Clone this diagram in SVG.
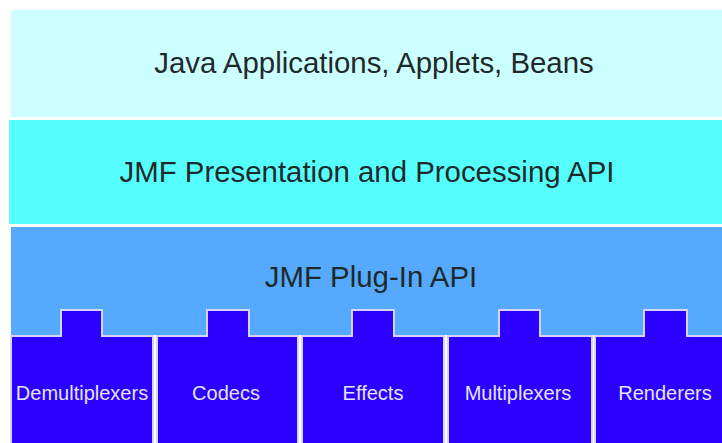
<svg xmlns="http://www.w3.org/2000/svg" width="722" height="443" viewBox="0 0 722 443">
<style>
.lt{font-family:"Liberation Sans",Arial,sans-serif;font-size:29.4px;fill:#1e2a2a;text-anchor:middle}
.bt{font-family:"Liberation Sans",Arial,sans-serif;font-size:20px;fill:#e4e4ff;text-anchor:middle}
.box{fill:#2b00ff;stroke:#d4d4ff;stroke-width:2}
</style>
<rect width="722" height="443" fill="#ffffff"/>
<g id="layer-apps">
<rect x="11" y="10" width="712" height="107" fill="#ccffff"/>
<text class="lt" x="374" y="73">Java Applications, Applets, Beans</text>
</g>
<g id="layer-presentation">
<rect x="9" y="120" width="714" height="104" fill="#55ffff"/>
<text class="lt" x="367" y="182">JMF Presentation and Processing API</text>
</g>
<g id="layer-plugin">
<rect x="11" y="227" width="712" height="108" fill="#55aaff"/>
<text class="lt" x="371" y="287">JMF Plug-In API</text>
</g>
<g id="connectors"></g>
<g id="box-demux">
<path class="box" d="M11,336 H61 V310 H102 V336 H153 V450 H11 Z"/>
<text class="bt" x="82" y="400">Demultiplexers</text>
</g>
<g id="box-codecs">
<path class="box" d="M157,336 H207 V310 H249 V336 H298 V450 H157 Z"/>
<text class="bt" x="226" y="400">Codecs</text>
</g>
<g id="box-effects">
<path class="box" d="M302,336 H352 V310 H394 V336 H444 V450 H302 Z"/>
<text class="bt" x="373" y="400">Effects</text>
</g>
<g id="box-mux">
<path class="box" d="M448,336 H499 V310 H540 V336 H592 V450 H448 Z"/>
<text class="bt" x="518" y="400">Multiplexers</text>
</g>
<g id="box-renderers">
<path class="box" d="M595,336 H644 V310 H687 V336 H740 V450 H595 Z"/>
<text class="bt" x="665" y="400">Renderers</text>
</g>
</svg>
